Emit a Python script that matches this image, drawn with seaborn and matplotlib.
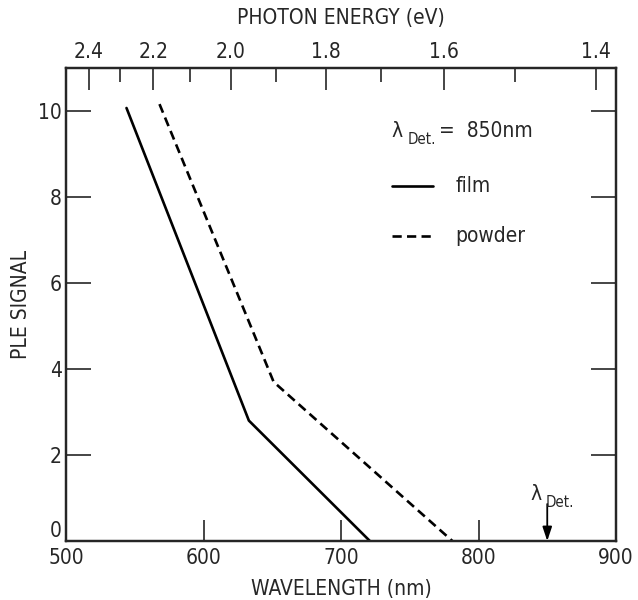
import numpy as np
import pandas as pd
import matplotlib
matplotlib.use("Agg")
import matplotlib.pyplot as plt
import seaborn as sns

# ---- data ----
film_wavelength = [544, 633, 721]
film_signal = [10.07, 2.8, 0.0]
powder_wavelength = [568, 651, 781]
powder_signal = [10.16, 3.7, 0.0]
x_ticks = [500, 600, 700, 800, 900]
y_ticks = [0, 2, 4, 6, 8, 10]
energy_major = [2.4, 2.2, 2.0, 1.8, 1.6, 1.4]
energy_minor = [2.3, 2.1, 1.9, 1.7, 1.5]
detection_wavelength = 850
HC = 1239.84

sns.set_theme(style="ticks")
plt.rcParams["font.family"] = ["DejaVu Sans"]
plt.rcParams["font.stretch"] = "condensed"

df = pd.DataFrame({
    "wavelength": film_wavelength + powder_wavelength,
    "signal": film_signal + powder_signal,
    "sample": ["film"] * len(film_wavelength) + ["powder"] * len(powder_wavelength),
})

fig = plt.figure(figsize=(6.38, 6.0), dpi=100)
ax = fig.add_axes([66 / 638, 1 - 541 / 600, 550 / 638, 473 / 600])

sns.lineplot(data=df, x="wavelength", y="signal", style="sample",
             dashes={"film": "", "powder": (3.5, 2)}, color="black",
             linewidth=1.9, sort=False, legend=False, ax=ax)

ax.set_xlim(500, 900)
ax.set_ylim(0, 11)
ax.set_xticks(x_ticks)
ax.set_yticks(y_ticks)
fs = 15
ax.tick_params(axis="x", direction="in", length=15, width=1.2, labelsize=fs, pad=5,
               top=False)
ax.tick_params(axis="y", direction="in", length=18, width=1.2, labelsize=fs, pad=3,
               right=True)
ylabels = ax.get_yticklabels()
ylabels[0].set_va("bottom")
for s in ax.spines.values():
    s.set_linewidth(1.6)
    s.set_color("black")
ax.set_xlabel("WAVELENGTH (nm)", fontsize=fs, labelpad=8)
ax.set_ylabel("PLE SIGNAL", fontsize=fs, labelpad=5)

# top energy axis
ax2 = ax.twiny()
ax2.set_xlim(ax.get_xlim())
ax2.set_xticks([HC / e for e in energy_major])
ax2.set_xticklabels([f"{e:.1f}" for e in energy_major])
ax2.set_xticks([HC / e for e in energy_minor], minor=True)
ax2.tick_params(axis="x", which="major", direction="in", length=16, width=1.2,
                labelsize=fs, pad=4)
ax2.tick_params(axis="x", which="minor", direction="in", length=10, width=1.2)
ax2.set_xlabel("PHOTON ENERGY (eV)", fontsize=fs, labelpad=13)
for s in ax2.spines.values():
    s.set_linewidth(1.6)


def lam_det(x, y, suffix=""):
    ax.text(x, y, "λ", fontsize=fs, va="baseline", ha="left")
    ax.annotate("Det.", xy=(x, y), xytext=(11, -5), textcoords="offset points",
                fontsize=fs * 0.72, va="baseline", ha="left")
    if suffix:
        ax.annotate(suffix, xy=(x, y), xytext=(34, 0), textcoords="offset points",
                    fontsize=fs, va="baseline", ha="left")


# legend-like annotations
lam_det(737, 9.4, "=  850nm")
ax.plot([737, 767], [8.25, 8.25], color="black", linewidth=1.9)
ax.text(783, 8.25, "film", fontsize=fs, va="center", ha="left")
ax.plot([737, 767], [7.1, 7.1], color="black", linewidth=1.9, dashes=(3.5, 2))
ax.text(783, 7.1, "powder", fontsize=fs, va="center", ha="left")

# detection wavelength arrow
ax.annotate("", xy=(detection_wavelength, 0), xytext=(detection_wavelength, 0.86),
            arrowprops=dict(arrowstyle="-|>,head_length=0.6,head_width=0.2",
                            color="black", lw=1.3,
                            mutation_scale=14, shrinkA=0, shrinkB=0))
lam_det(838, 0.95)

fig.savefig("out.png", dpi=100)
